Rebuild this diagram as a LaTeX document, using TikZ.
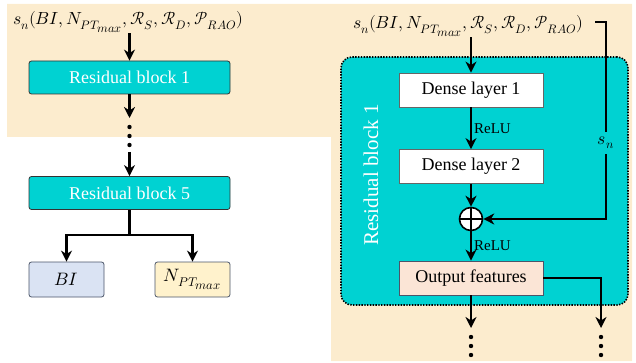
\documentclass[tikz,border=0pt]{standalone}
\usepackage{fontspec}
\usepackage{unicode-math}
\setmainfont{Liberation Serif}
\newfontfamily\scriptserif{DejaVu Serif}
\newfontfamily\scriptsans{DejaVu Sans}
\usetikzlibrary{arrows.meta,calc}

\definecolor{paper}{RGB}{252,236,206}
\definecolor{blockteal}{RGB}{0,210,210}
\definecolor{bifill}{RGB}{218,227,243}
\definecolor{nfill}{RGB}{255,242,204}
\definecolor{outfill}{RGB}{251,229,214}
\definecolor{edgegray}{RGB}{75,85,105}

% script letter s: taken from a text font that has it, italic s otherwise
\newcommand{\scrs}{\mbox{\scriptserif\iffontchar\font"1D4C8 ^^^^^1d4c8\else
  \scriptsans\iffontchar\font"1D4C8 ^^^^^1d4c8\else$s$\fi\fi}}
% input state vector
\newcommand{\statevec}{\scrs_n(BI, N_{PT_{\scriptstyle max}}, \mathcal{R}_S, \mathcal{R}_D, \mathcal{P}_{RAO})}

\tikzset{
  resblock/.style={draw=black!80, fill=blockteal, rounded corners=2.5pt,
    minimum width=201pt, minimum height=33pt, text=white,
    font=\fontsize{18}{20}\selectfont, line width=0.8pt},
  layer/.style={draw=black!60, minimum width=144pt, minimum height=34pt,
    font=\fontsize{18}{20}\selectfont, line width=0.8pt},
  outbox/.style={draw=edgegray, rounded corners=2.5pt, minimum width=75pt,
    minimum height=35pt, font=\fontsize{18}{20}\selectfont, line width=0.8pt},
  inlabel/.style={font=\fontsize{17.5}{20}\selectfont, inner sep=1pt},
  relu/.style={font=\fontsize{15}{17}\selectfont, inner sep=2pt},
  conn/.style={line width=2.2pt},
  flow/.style={conn, -{Stealth[length=11pt,width=11pt,inset=3.5pt]}},
  dot/.style={fill=black},
}

\begin{document}
\begin{tikzpicture}[x=1pt,y=-1pt]
\useasboundingbox (0,0) rectangle (636,363);

% beige backdrop
\fill[paper] (7,4) -- (632,4) -- (632,361) -- (331,361) -- (331,137) -- (7,137) -- cycle;

% ---------- stacked network ----------
\node[inlabel] (inL) at (128,22) {$\statevec$};
\node[resblock] (rb1) at (129.5,77.5) {Residual block 1};
\node[resblock] (rb5) at (129.5,193) {Residual block 5};
\node[outbox, fill=bifill] (bi) at (66.5,279.5) {$BI$};
\node[outbox, fill=nfill] (npt) at (192.5,279.5) {$N_{PT_{\scriptstyle max}}$};

\coordinate (gapA) at (129.5,118);
\coordinate (gapB) at (129.5,152);
\coordinate (split) at (129.5,235);

\draw[flow] (inL.south -| rb1.north) -- (rb1.north);
\draw[flow] (rb1) -- (gapA);
\foreach \yy in {127,136,145} \fill[dot] (129.5,\yy) circle (2.2pt);
\draw[flow] (gapB) -- (rb5);
\draw[conn] (rb5) -- (split);
\draw[flow] (split) -| (bi);
\draw[flow] (split) -| (npt);

% ---------- inside one residual block ----------
\node[fill=blockteal, draw=black, line width=1.6pt,
      dash pattern=on 1.4pt off 1.4pt, rounded corners=11pt,
      minimum width=287pt, minimum height=248pt] (rbox) at (484.5,181) {};
\node[rotate=90, text=white, font=\fontsize{21}{23}\selectfont] (rblabel)
  at (371,175) {Residual block 1};

\node[inlabel] (inR) at (468,26) {$\statevec$};
\node[layer, fill=white] (d1) at (471,90) {Dense layer 1};
\node[layer, fill=white] (d2) at (471,166.5) {Dense layer 2};
\node[circle, draw, fill=white, minimum size=23pt, inner sep=0pt, line width=1.6pt,
      path picture={\draw[line width=1.4pt]
        (path picture bounding box.north) -- (path picture bounding box.south)
        (path picture bounding box.west) -- (path picture bounding box.east);}]
      (add) at (471,219) {};
\node[layer, fill=outfill, draw=edgegray] (outf) at (471,278) {Output features};
\node[inlabel, inner sep=5pt] (snl) at (606,143) {$\scrs_n$};

\coordinate (skipA) at (595,22);
\coordinate (outA) at (471,328);
\coordinate (outB) at (601,328);

\draw[flow] (inR.south -| d1.north) -- (d1.north);
\draw[flow] (d1) -- node[relu, right] {ReLU} (d2);
\draw[flow] (d2) -- (add);
\draw[flow] (add) -- node[relu, right] {ReLU} (outf);
\draw[conn] (skipA) -| (snl.north);
\draw[flow] (snl.south) |- (add.east);
\draw[flow] (outf) -- (outA);
\draw[flow] (outf.east) -| (outB);
\foreach \yy in {337,346,355} {
  \fill[dot] (471,\yy) circle (2.2pt);
  \fill[dot] (601,\yy) circle (2.2pt);
}
\end{tikzpicture}
\end{document}
